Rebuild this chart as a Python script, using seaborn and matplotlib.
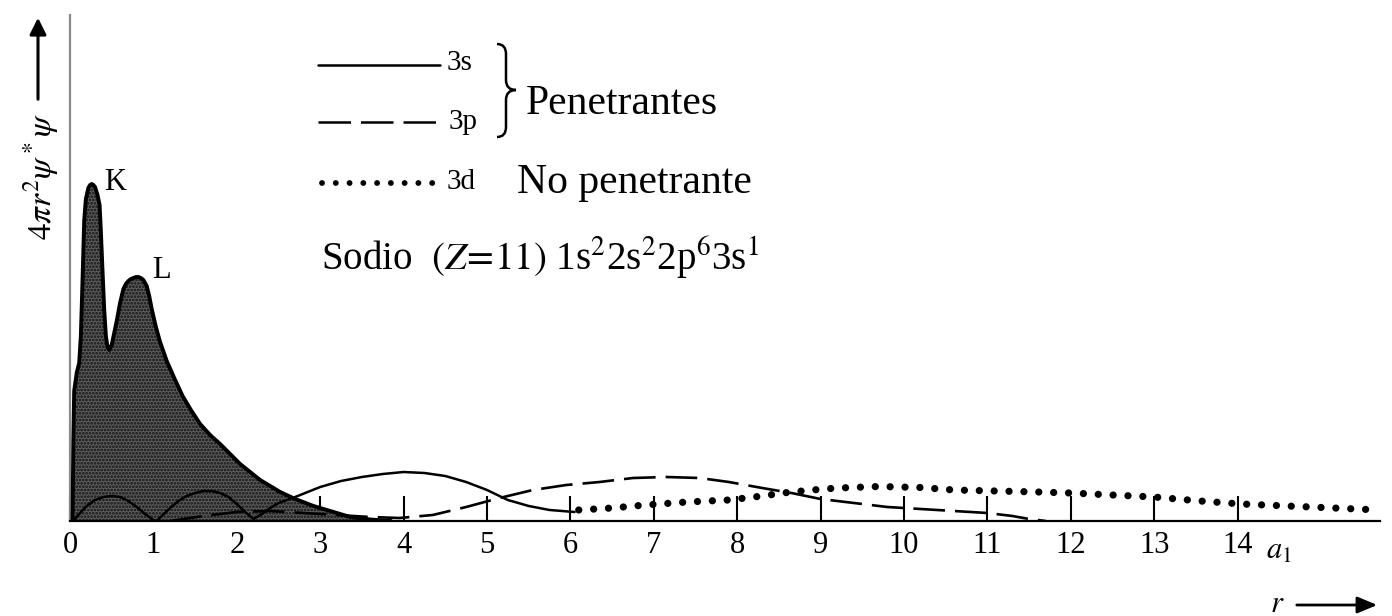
import matplotlib
matplotlib.use('Agg')
import matplotlib.pyplot as plt
import seaborn as sns
from matplotlib.path import Path
from matplotlib.patches import PathPatch, FancyArrowPatch

# Radial probability density of sodium (y in arbitrary units)
r_total = [0.03, 0.04, 0.05, 0.08, 0.11, 0.13, 0.15, 0.17, 0.19, 0.22, 0.24, 0.26, 0.28,
           0.30, 0.33, 0.355, 0.37, 0.39, 0.41, 0.43, 0.45, 0.47, 0.50, 0.53, 0.56, 0.60,
           0.64, 0.67, 0.70, 0.73, 0.76, 0.79, 0.82, 0.85, 0.88, 0.92, 0.95, 0.98, 1.03,
           1.08, 1.16, 1.25, 1.35, 1.45, 1.56, 1.68, 1.80, 1.92, 2.04, 2.16, 2.28, 2.40,
           2.52, 2.70, 2.92, 3.16, 3.36, 3.60, 3.85]
dens_total = [0, 80, 130, 148, 158, 185, 240, 300, 322, 333, 336, 337, 336,
              334, 326, 316, 290, 250, 212, 185, 174, 171, 176, 188, 200, 218,
              232, 237, 240, 242, 243, 244, 244, 243, 241, 235, 225, 212, 194,
              179, 160, 143, 125, 111, 97, 86, 77, 67, 57, 49, 41, 35,
              29, 22, 15, 9, 4, 1.5, 0]

r_3s = [0.04, 0.12, 0.2, 0.3, 0.4, 0.5, 0.6, 0.7, 0.8, 0.9, 1.0, 1.04, 1.1, 1.2, 1.3,
        1.4, 1.5, 1.6, 1.7, 1.8, 1.9, 2.0, 2.1, 2.2, 2.3, 2.4, 2.5, 2.6, 2.7, 2.85, 3.0,
        3.25, 3.5, 3.75, 4.0, 4.25, 4.5, 4.75, 5.0, 5.25, 5.5, 5.75, 6.05]
dens_3s = [0, 8, 15, 21, 24, 25, 24, 20, 14, 7, 1, 0, 5, 13, 20,
           25, 28, 30, 30, 28, 24, 17, 9, 2, 7, 13, 18, 21, 24, 29, 34,
           40, 44, 47, 49, 48, 45, 39, 31, 21, 15, 11, 9]

r_3p = [1.2, 1.6, 2.0, 2.4, 2.8, 3.2, 3.6, 3.95, 4.35, 4.75, 5.15, 5.55, 5.95, 6.35,
        6.75, 7.15, 7.55, 7.9, 8.3, 8.65, 9.0, 9.4, 9.8, 10.2, 10.6, 11.0, 11.3, 11.5, 11.7]
dens_3p = [0, 5, 9, 10, 8, 6, 4, 3, 6, 14, 23, 31, 36, 39,
           43, 44, 43, 39, 33, 28, 22, 18, 14, 12, 10, 8, 5, 2, 0]

r_3d = [6.1, 6.5, 6.9, 7.4, 7.9, 8.3, 8.6, 8.9, 9.2, 9.7, 10.2, 10.6, 11.1, 11.6,
        12.0, 12.5, 13.0, 13.55, 14.05, 14.6, 15.15, 15.7]
dens_3d = [11, 13, 16, 19, 21, 25, 28.5, 31, 33, 34.5, 33.5, 31, 30, 29,
           28, 26, 24, 20, 17, 15, 13, 11]

tick_pos = list(range(15))
tick_labels = [str(t) for t in tick_pos]

sns.set_style('white')
plt.rcParams['font.family'] = ['Liberation Serif', 'DejaVu Serif']
plt.rcParams['mathtext.fontset'] = 'stix'
plt.rcParams['hatch.linewidth'] = 1.3
plt.rcParams['text.color'] = 'black'

W, H = 1392, 616
X0, X1, YB, YT = 70, 1380, 521, 15
PX_UNIT = 83.4

fig = plt.figure(figsize=(W / 100, H / 100), dpi=100)
ax = fig.add_axes([X0 / W, 1 - YB / H, (X1 - X0) / W, (YB - YT) / H])
ax.set_xlim(0, (X1 - X0) / PX_UNIT)
ax.set_ylim(0, YB - YT)


def d(px, py):
    # figure pixel -> data coords (used for the annotation layout only)
    return (px - X0) / PX_UNIT, YB - py


# shaded total density
ax.fill_between(r_total, dens_total, facecolor='#5c5c5c', edgecolor='#101010',
                hatch='.....', linewidth=0, zorder=3)
sns.lineplot(x=r_total, y=dens_total, ax=ax, color='black', lw=2.8, zorder=5)

sns.lineplot(x=r_3s, y=dens_3s, ax=ax, color='black', lw=1.8, zorder=5)
sns.lineplot(x=r_3p, y=dens_3p, ax=ax, color='black', lw=1.9, zorder=5,
             linestyle=(0, (12, 3.8)))
sns.lineplot(x=r_3d, y=dens_3d, ax=ax, color='black', lw=5.2, zorder=5,
             linestyle=(0, (0.01, 2.05)), dash_capstyle='round')

ax.set_xticks(tick_pos)
ax.set_xticklabels(tick_labels)
ax.set_yticks([])
ax.set_xlabel('')
ax.set_ylabel('')
ax.tick_params(axis='x', bottom=True, direction='in', length=18, width=1.5,
               labelsize=22, pad=7, color='black', labelcolor='black')
for s in ['top', 'right']:
    ax.spines[s].set_visible(False)
ax.spines['bottom'].set_color('black')
ax.spines['bottom'].set_linewidth(1.6)
ax.spines['bottom'].set_zorder(6)
ax.spines['left'].set_color('#8a8a8a')
ax.spines['left'].set_linewidth(1.6)

ax.text(*d(1266, 551), '$a_1$', fontsize=22, va='center', ha='left', clip_on=False)

# peak labels
ax.text(*d(104, 182), 'K', fontsize=22, va='center', ha='left')
ax.text(*d(152, 270), 'L', fontsize=22, va='center', ha='left')

# legend block
ax.plot([d(318, 0)[0], d(440, 0)[0]], [d(0, 65)[1]] * 2, color='black', lw=1.8)
ax.plot([d(318, 0)[0], d(442, 0)[0]], [d(0, 122)[1]] * 2, color='black', lw=1.8,
        linestyle=(0, (13, 4)))
ax.plot([d(322, 0)[0], d(440, 0)[0]], [d(0, 183)[1]] * 2, color='black', lw=4.2,
        linestyle=(0, (0.01, 2.35)), dash_capstyle='round')
ax.text(*d(447, 63), '3s', fontsize=21, va='center', ha='left')
ax.text(*d(449, 122), '3p', fontsize=21, va='center', ha='left')
ax.text(*d(447, 182), '3d', fontsize=21, va='center', ha='left')
ax.text(*d(526, 104), 'Penetrantes', fontsize=30, va='center', ha='left')
ax.text(*d(517, 183), 'No penetrante', fontsize=30, va='center', ha='left')
ax.text(*d(321, 258), r'Sodio  $(Z\!=\!11)$ 1s$^2$2s$^2$2p$^6$3s$^1$', fontsize=28,
        va='center', ha='left')

# curly brace
bx, bm, bt = 497, 506, 516
brace = [(bx, 44), (bm, 44), (bm, 54), (bm, 80), (bm, 90), (bt, 90),
         (bm, 90), (bm, 100), (bm, 127), (bm, 137), (bx, 137)]
codes = [Path.MOVETO, Path.CURVE3, Path.CURVE3, Path.LINETO, Path.CURVE3, Path.CURVE3,
         Path.CURVE3, Path.CURVE3, Path.LINETO, Path.CURVE3, Path.CURVE3]
brace_path = Path([d(px, py) for px, py in brace], codes)
ax.add_patch(PathPatch(brace_path, fill=False, lw=1.8, edgecolor='black', clip_on=False))

# axis captions with arrows
fig.text(41 / W, 1 - 176 / H, r'$4\pi r^2\psi^*\psi$', rotation=90, fontsize=24,
         ha='center', va='center')
fig.add_artist(FancyArrowPatch(
    (38 / W, 1 - 102 / H), (38 / W, 1 - 15 / H), transform=fig.transFigure,
    arrowstyle='-|>,head_length=10,head_width=5', lw=2.2, color='black'))
fig.text(1277 / W, 1 - 604 / H, '$r$', fontsize=22, ha='center', va='center')
fig.add_artist(FancyArrowPatch(
    (1294 / W, 1 - 605 / H), (1380 / W, 1 - 605 / H), transform=fig.transFigure,
    arrowstyle='-|>,head_length=12,head_width=5', lw=2.0, color='black'))

fig.savefig('out.png', dpi=100)
